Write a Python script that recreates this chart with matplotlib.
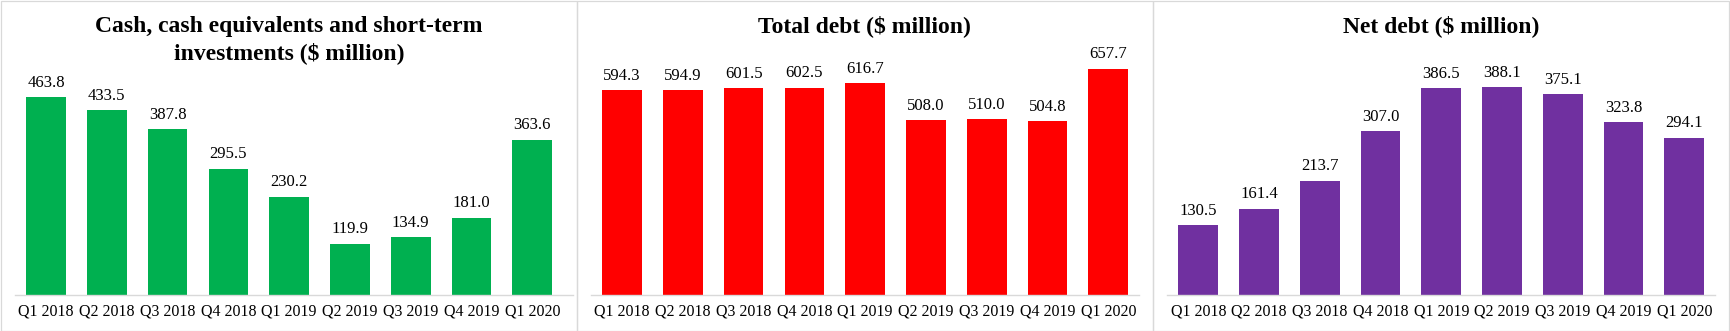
import matplotlib
matplotlib.use('Agg')
import matplotlib.pyplot as plt
from matplotlib.patches import Rectangle

plt.rcParams['font.family'] = ['Liberation Serif', 'DejaVu Serif']

quarters = ['Q1 2018', 'Q2 2018', 'Q3 2018', 'Q4 2018', 'Q1 2019',
            'Q2 2019', 'Q3 2019', 'Q4 2019', 'Q1 2020']
cash = [463.8, 433.5, 387.8, 295.5, 230.2, 119.9, 134.9, 181.0, 363.6]
total_debt = [594.3, 594.9, 601.5, 602.5, 616.7, 508.0, 510.0, 504.8, 657.7]
net_debt = [130.5, 161.4, 213.7, 307.0, 386.5, 388.1, 375.1, 323.8, 294.1]

W, H = 1730, 331
fig = plt.figure(figsize=(W / 100, H / 100), dpi=100)

# layout in pixels: border left/right, axes left/right, xlim, ymax, title y
panels = [
    dict(bl=0.5, br=577, al=15, ar=573, xl=(-0.51, 8.67), ymax=550.6,
         ty=40, title='Cash, cash equivalents and short-term\ninvestments ($ million)',
         vals=cash, color='#00b050'),
    dict(bl=577, br=1152.5, al=591, ar=1138.7, xl=(-0.51, 8.5), ymax=683,
         ty=26, title='Total debt ($ million)', vals=total_debt, color='#ff0000'),
    dict(bl=1152.5, br=1729.3, al=1167.3, ar=1715.3, xl=(-0.51, 8.51), ymax=439.5,
         ty=26, title='Net debt ($ million)', vals=net_debt, color='#7030a0'),
]

for p in panels:
    fig.patches.append(Rectangle((p['bl'] / W, 0.5 / H), (p['br'] - p['bl']) / W, (H - 1) / H,
                                 transform=fig.transFigure, fill=False,
                                 edgecolor='#d9d9d9', linewidth=0.9))
    ax = fig.add_axes([p['al'] / W, 36.3 / H, (p['ar'] - p['al']) / W, 234.7 / H])
    vals = p['vals']
    x = range(len(vals))
    bars = ax.bar(x, vals, width=0.653, color=p['color'])
    for b, v in zip(bars, vals):
        ax.annotate(f'{v:.1f}', (b.get_x() + b.get_width() / 2, v),
                    xytext=(0, 4.5), textcoords='offset points',
                    ha='center', va='bottom', fontsize=12)
    ax.set_xlim(*p['xl'])
    ax.set_ylim(0, p['ymax'])
    ax.set_xticks(list(x))
    ax.set_xticklabels(quarters, fontsize=11.5)
    ax.tick_params(axis='x', length=0, pad=6.5)
    ax.set_yticks([])
    for s in ['top', 'left', 'right']:
        ax.spines[s].set_visible(False)
    ax.spines['bottom'].set_color('#d9d9d9')
    ax.spines['bottom'].set_linewidth(1.0)
    cx = (p['bl'] + p['br']) / 2 / W
    fig.text(cx, 1 - p['ty'] / H, p['title'], ha='center', va='center',
             fontsize=17, fontweight='bold', linespacing=1.3)

fig.savefig('out.png', dpi=100)
